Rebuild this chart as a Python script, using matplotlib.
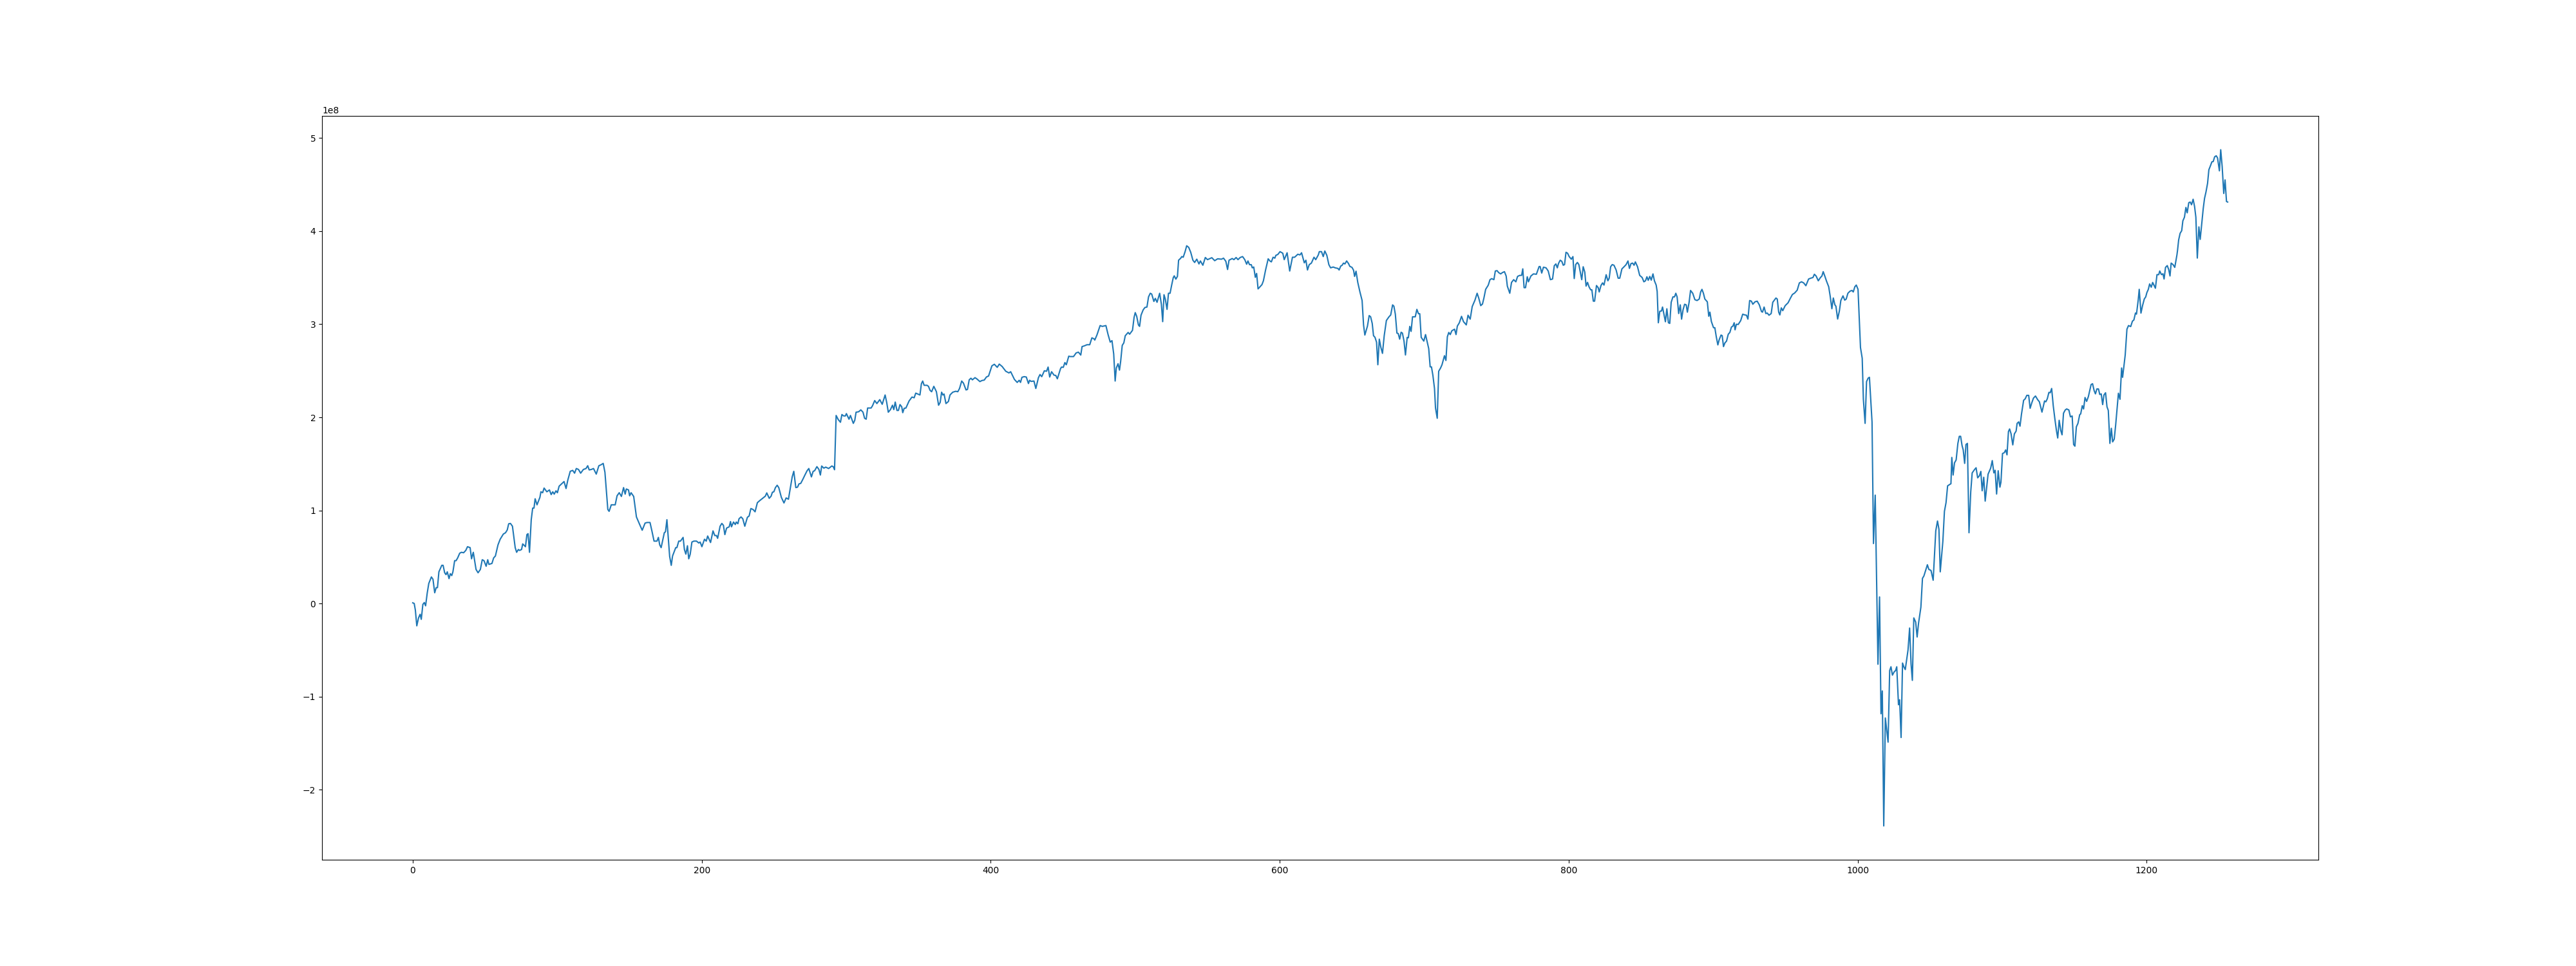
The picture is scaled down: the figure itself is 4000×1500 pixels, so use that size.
import numpy as np
import matplotlib
matplotlib.use("Agg")
import matplotlib.pyplot as plt

# (day index, value in units of 1e8), by stretch
seg_0_150 = [(0,0.007),(1,0.0),(1.8,-0.07),(2.8,-0.24),(4,-0.155),(5.1,-0.116),(5.9,-0.17),(7,-0.01),(8,0.01),(8.9,-0.025),
    (10,0.11),(11.1,0.215),(12.9,0.285),(14,0.26),(15.2,0.115),(16.2,0.17),(17.1,0.17),(18.1,0.34),(20.1,0.41),(21,0.41),
    (22.1,0.33),(23,0.31),(23.9,0.34),(25.1,0.267),(26,0.32),(27,0.30),(27.8,0.34),(29,0.46),(30,0.46),(31.1,0.49),
    (32.5,0.54),(33.7,0.55),(35.2,0.545),(36.7,0.57),(37.9,0.61),(39.7,0.60),(40.7,0.48),(41.9,0.55),(43.8,0.366),(45.2,0.33),
    (46.8,0.366),(48.1,0.47),(49.3,0.46),(50.8,0.40),(51.9,0.47),(52.7,0.42),(54.8,0.43),(56,0.49),(57.2,0.51),(59,0.63),
    (60.5,0.69),(62.7,0.746),(64.2,0.76),(65.4,0.79),(66.4,0.856),(67.6,0.86),(69,0.83),(70.9,0.60),(71.9,0.55),(73.1,0.58),
    (73.9,0.57),(75.3,0.58),(76.1,0.64),(78,0.61),(79,0.74),(79.8,0.75),(80.8,0.55),(82,0.90),(83,1.025),(83.9,1.025),
    (84.7,1.125),(86,1.06),(88,1.14),(88.7,1.20),(89.9,1.19),(90.9,1.24),(92.8,1.20),(94.6,1.22),(95.8,1.17),(96.9,1.20),
    (97.9,1.175),(99.1,1.21),(100.1,1.19),(101.3,1.26),(103.3,1.29),(104.7,1.31),(106.1,1.235),(107.3,1.325),(109,1.42),(110.7,1.43),
    (112,1.40),(113.2,1.45),(114.7,1.44),(116.2,1.40),(118.1,1.44),(119.9,1.45),(121.1,1.48),(122.1,1.435),(123.6,1.44),(125.1,1.45),
    (127,1.39),(128.8,1.48),(130.3,1.49),(131.8,1.505),(133,1.41),(135,1.01),(135.9,0.99),(137.4,1.06),(139.2,1.06),(140.1,1.06),
    (141.4,1.157),(142.9,1.19),(144.4,1.15),(145.9,1.245),(147,1.175),(147.8,1.23),(149.3,1.22),(150.1,1.157)]

seg_151_310 = [(151.1,1.19),(152.9,1.15),(154.8,0.93),(157,0.85),(158.8,0.787),(160.8,0.864),(162.2,0.87),(164.2,0.87),(165.5,0.78),(167,0.67),
    (169,0.67),(170,0.71),(170.9,0.63),(171.9,0.60),(174.1,0.76),(174.9,0.77),(175.9,0.90),(177.8,0.505),(178.9,0.41),(179.8,0.51),
    (182,0.60),(182.8,0.60),(184.1,0.67),(185.3,0.67),(187.1,0.71),(188,0.58),(189,0.53),(190.1,0.62),(191,0.48),(192,0.528),
    (193.2,0.66),(194.5,0.67),(196.4,0.67),(197.9,0.65),(198.9,0.66),(200.1,0.61),(201.9,0.69),(203.1,0.67),(204.1,0.725),(206.1,0.655),
    (207.8,0.78),(209,0.73),(210.2,0.73),(211,0.70),(212.7,0.83),(213.9,0.86),(215,0.84),(216,0.74),(217.2,0.81),(219,0.824),
    (219.9,0.88),(220.6,0.824),(222,0.875),(223.2,0.848),(223.9,0.875),(225,0.857),(225.8,0.91),(227.2,0.93),(228.4,0.91),(229.8,0.83),
    (231.6,0.926),(232.8,0.94),(234,1.02),(235.5,1.01),(236.9,0.985),(238.5,1.083),(240.2,1.106),(242.5,1.134),(244,1.153),(245,1.188),
    (246.7,1.13),(248,1.153),(248.9,1.195),(249.9,1.2),(251,1.245),(252.2,1.27),(253.3,1.245),(255.1,1.14),(256.9,1.08),(258.4,1.134),
    (260,1.12),(261.1,1.22),(262.6,1.36),(263.7,1.42),(265.1,1.245),(266.3,1.25),(267.3,1.285),(268.5,1.29),(270,1.335),(271.4,1.38),
    (272.9,1.426),(274.1,1.45),(275.9,1.36),(277.1,1.42),(278.1,1.426),(279.7,1.47),(281.1,1.44),(282.1,1.38),(283,1.477),(284.5,1.454),
    (285.8,1.465),(287.8,1.45),(290,1.477),(291,1.47),(291.9,1.437),(293,2.02),(294.5,1.975),(296,1.947),(297,2.03),(298.2,2.015),
    (299.4,2.015),(300.1,2.04),(301.9,1.98),(302.9,2.02),(304.9,1.935),(305.9,1.968),(306.8,2.055),(308.6,2.06),(310.1,2.08)]

seg_311_471 = [(311.6,2.055),(312.7,1.99),(313.8,1.98),(314.8,2.10),(317.2,2.10),(318.2,2.125),(319.7,2.18),(321.2,2.148),(323.2,2.19),(324.9,2.14),
    (326.9,2.24),(328,2.16),(329.1,2.055),(330.6,2.083),(332,2.13),(332.9,2.083),(333.9,2.164),(335.1,2.074),(336.1,2.074),(337.2,2.137),
    (338.4,2.113),(339.1,2.05),(340.1,2.097),(341.3,2.10),(343.5,2.176),(345.5,2.218),(347,2.21),(348.1,2.26),(349.5,2.25),(351,2.24),
    (352,2.36),(352.9,2.39),(353.9,2.344),(355.9,2.344),(356.9,2.333),(358,2.29),(359.1,2.275),(360.6,2.333),(362.4,2.275),(363.9,2.13),
    (365,2.16),(366,2.27),(366.9,2.24),(367.7,2.25),(369,2.148),(370.7,2.17),(371.8,2.24),(373.7,2.27),(375.8,2.28),(377.2,2.275),
    (378.4,2.31),(379.9,2.39),(381.1,2.368),(382.9,2.294),(383.9,2.3),(385.1,2.403),(386.3,2.42),(387.3,2.403),(389.1,2.426),(390.3,2.414),
    (392.5,2.384),(394,2.396),(395.5,2.40),(397,2.433),(398.5,2.444),(400.8,2.553),(402.5,2.57),(404.5,2.537),(405.9,2.572),(407.9,2.546),
    (410.4,2.495),(412.6,2.477),(413.8,2.49),(416.4,2.407),(418.3,2.375),(419.7,2.398),(420.6,2.375),(421.6,2.43),(423.1,2.437),(424.6,2.433),
    (426.1,2.363),(426.9,2.398),(427.9,2.386),(429.9,2.39),(431.2,2.31),(433,2.426),(434.1,2.46),(435.3,2.437),(437.1,2.50),(438.6,2.495),
    (439.7,2.54),(440.8,2.433),(442.1,2.49),(443.8,2.453),(445,2.45),(446.1,2.414),(448.3,2.523),(449,2.54),(450.2,2.537),(451.3,2.588),
    (452.3,2.565),(454,2.657),(455,2.653),(457.3,2.653),(459.1,2.692),(460.7,2.70),(462.3,2.669),(463.2,2.76),(464.8,2.768),(466.6,2.78),
    (468.5,2.78),(470,2.854),(471.5,2.843)]

seg_472_633 = [(472,2.83),(473.5,2.885),(475.7,2.986),(477.2,2.977),(479.7,2.986),(481.2,2.889),(482.7,2.808),(483.9,2.824),(485.1,2.68),(486.1,2.39),
    (486.9,2.53),(488.1,2.576),(489.1,2.507),(489.9,2.6),(491,2.773),(492.1,2.8),(493.1,2.877),(495.1,2.912),(496.1,2.893),(498.1,2.935),
    (499.2,3.074),(500,3.125),(501,3.086),(502.2,2.993),(503,2.977),(504,3.097),(505.5,3.155),(506.7,3.18),(508.1,3.185),(509.2,3.294),
    (510.4,3.333),(511.4,3.324),(512.9,3.245),(513.9,3.278),(515.1,3.236),(516.9,3.333),(518.1,3.213),(519,3.028),(519.9,3.317),(520.8,3.27),
    (522,3.16),(523,3.333),(524.1,3.333),(525.2,3.42),(526.3,3.50),(527,3.52),(528.1,3.485),(529.2,3.514),(530,3.688),(531.5,3.71),
    (532.2,3.727),(533.2,3.72),(534.5,3.78),(535.6,3.843),(537,3.826),(538.4,3.773),(539.9,3.688),(541.1,3.664),(542.6,3.699),(544.1,3.648),
    (545.1,3.68),(546.8,3.634),(548.5,3.717),(550,3.694),(553,3.715),(555,3.683),(557,3.703),(559.7,3.699),(561.1,3.71),(562.7,3.676),
    (563.9,3.588),(564.9,3.688),(567.1,3.706),(568.3,3.694),(569.8,3.717),(571.1,3.694),(572.6,3.717),(574.3,3.727),(575.8,3.694),(577.1,3.645),
    (578,3.68),(579.1,3.64),(580.3,3.64),(581,3.606),(582,3.615),(583.1,3.504),(584,3.546),(585,3.38),(586.2,3.40),(587.7,3.426),
    (588.7,3.467),(590.2,3.583),(592,3.703),(593.2,3.68),(594.2,3.67),(595.4,3.72),(596.6,3.71),(597.3,3.74),(598.7,3.75),(600.2,3.78),
    (602.1,3.763),(603.1,3.694),(605.1,3.768),(606.9,3.572),(608.8,3.72),(610.3,3.72),(612.5,3.752),(614,3.745),(615.1,3.768),(617,3.66),
    (618.1,3.688),(619.2,3.583),(620.4,3.64),(621.9,3.657),(623.7,3.72),(624.9,3.694),(626.7,3.745),(627.4,3.78),(628.9,3.78),(630.1,3.727),
    (631.2,3.787),(632.6,3.74)]

seg_634_792 = [(634,3.64),(635.2,3.606),(637,3.615),(638.4,3.606),(640.2,3.60),(641.1,3.583),(642.2,3.625),(643.2,3.634),(644.1,3.657),(645.1,3.648),
    (646.3,3.68),(647.6,3.652),(648.5,3.622),(650,3.611),(651.1,3.58),(651.8,3.514),(652.8,3.57),(654,3.45),(655.5,3.347),(657,3.255),
    (658,2.993),(658.9,2.884),(660.7,2.98),(661.9,3.093),(662.9,3.08),(664,3.009),(664.9,2.877),(665.9,2.86),(667,2.807),(667.9,2.565),
    (668.9,2.84),(670,2.75),(671.1,2.687),(672.3,2.877),(673.8,3.04),(675.6,3.08),(676.8,3.10),(678.1,3.208),(679,3.194),(680,3.108),
    (681.1,2.905),(682,2.90),(683,2.84),(684,2.914),(684.9,2.905),(686,2.819),(687,2.67),(688.2,2.859),(689,2.854),(690,2.977),
    (690.9,2.923),(691.9,3.08),(693.8,3.08),(694.9,3.16),(696,3.113),(696.9,3.113),(697.9,2.859),(699.7,2.819),(700.9,2.889),(701.9,2.819),
    (703.1,2.738),(704.1,2.542),(705,2.542),(706,2.45),(707.1,2.31),(707.8,2.10),(709,1.99),(710,2.495),(711.3,2.53),(712.3,2.565),
    (714,2.662),(715,2.611),(716,2.866),(717,2.912),(718,2.889),(719.1,2.93),(721,2.947),(722,2.889),(722.9,2.98),(724.3,3.016),
    (725.8,3.085),(727.2,3.027),(729.1,2.993),(730.3,3.097),(731.8,3.055),(733.2,3.19),(735.1,3.259),(736.6,3.333),(737.7,3.282),(739.1,3.2),
    (740.3,3.217),(741.3,3.282),(742.5,3.375),(744.3,3.42),(745.5,3.479),(746.7,3.49),(748.2,3.479),(749.2,3.572),(750.4,3.576),(751.5,3.555),
    (752.9,3.541),(754.1,3.555),(755.5,3.565),(756.7,3.518),(757.5,3.41),(759.2,3.333),(760.4,3.449),(761.9,3.479),(763.4,3.456),(764.6,3.514),
    (766.1,3.525),(767.4,3.525),(768.2,3.595),(769.1,3.393),(770.1,3.393),(771.3,3.51),(772.1,3.456),(773.8,3.518),(775.6,3.541),(777.6,3.537),
    (779.5,3.62),(780.2,3.62),(781.3,3.55),(782.5,3.613),(784.3,3.606),(785.8,3.572),(787.3,3.479),(788.8,3.486),(790,3.629),(791.1,3.648),
    (792.1,3.606)]

seg_793_952 = [(792.9,3.652),(794.1,3.688),(795.2,3.676),(796.2,3.634),(797.1,3.641),(798.1,3.773),(799.2,3.763),(800.3,3.727),(801.8,3.699),(802.9,3.727),
    (803.8,3.491),(804.8,3.641),(806,3.664),(807,3.641),(808.1,3.55),(809,3.479),(810,3.618),(811.1,3.56),(812,3.41),(813,3.45),
    (814.1,3.4),(815.2,3.37),(816,3.37),(817,3.248),(817.9,3.248),(819.2,3.416),(820.4,3.393),(821.1,3.347),(822.3,3.416),(823.4,3.444),
    (824.4,3.421),(825.9,3.532),(827.1,3.467),(828,3.495),(829,3.618),(830.1,3.641),(831.3,3.634),(832.8,3.583),(834.2,3.495),(835.3,3.495),
    (836.8,3.595),(838.3,3.618),(839.7,3.641),(841,3.68),(842,3.6),(843.1,3.652),(844.2,3.657),(845.2,3.634),(846.1,3.67),(847.6,3.618),
    (849.1,3.525),(850.8,3.502),(852,3.456),(853.1,3.467),(854.1,3.51),(855,3.472),(856.1,3.514),(857.1,3.474),(858.3,3.541),(859.3,3.467),
    (860.5,3.421),(861.2,3.352),(862,3.016),(863,3.139),(864.2,3.143),(864.9,3.185),(866,3.097),(866.9,3.027),(867.9,3.166),(869,3.016),
    (869.9,3.009),(870.9,3.236),(872.1,3.294),(873.2,3.294),(874.1,3.333),(875,3.294),(876.1,3.115),(877.2,3.208),(878.1,3.055),(879.1,3.155),
    (880.2,3.215),(881.3,3.208),(882.1,3.13),(883.3,3.236),(884.3,3.363),(885.8,3.333),(887.3,3.264),(888.8,3.255),(890.3,3.271),(891.3,3.347),
    (892.2,3.375),(893.2,3.333),(894.2,3.271),(895.9,3.241),(896.9,3.086),(897.7,3.13),(898.7,3.03),(900.2,2.963),(901.1,2.963),(902.1,2.866),
    (903.2,2.778),(904.1,2.833),(905.4,2.884),(906.2,2.877),(907.1,2.76),(908.1,2.8),(909.2,2.819),(910.4,2.893),(911.5,2.912),(912.6,2.97),
    (913.6,2.98),(914.5,3.016),(915.1,2.94),(916,3.0),(917.3,2.998),(919,3.039),(920.4,3.108),(921.9,3.1),(923,3.097),(924,3.055),
    (925.2,3.255),(926.4,3.248),(927.4,3.215),(928.9,3.241),(930.4,3.248),(931.9,3.208),(933.4,3.136),(934.1,3.13),(935.2,3.185),(936.4,3.115),
    (937.4,3.12),(938.6,3.097),(940.1,3.115),(941.2,3.236),(942.3,3.259),(943.4,3.282),(944.3,3.271),(945.3,3.13),(946.1,3.1),(947.1,3.176),
    (948.1,3.146),(949.8,3.2),(951.8,3.231)]

seg_953_1012 = [(953.4,3.28),(954.8,3.32),(956.3,3.335),(958.1,3.366),(959.6,3.444),(961.1,3.456),(962.6,3.444),(964.1,3.414),(966,3.486),(967.5,3.495),
    (969,3.502),(970,3.537),(971.2,3.518),(972.7,3.467),(974.2,3.502),(975.2,3.518),(976.1,3.565),(977.2,3.518),(978.4,3.463),(979.9,3.403),
    (980.9,3.305),(982.1,3.167),(983.1,3.282),(984.2,3.208),(984.9,3.194),(986.1,3.056),(987.3,3.143),(988.3,3.255),(989.8,3.305),(991,3.259),
    (992,3.27),(993.2,3.333),(994.7,3.356),(996,3.363),(996.9,3.347),(998,3.403),(999,3.421),(1000.2,3.375),(1001.9,2.75),(1003.1,2.634),
    (1003.9,2.194),(1005.1,1.935),(1006.1,2.384),(1007.2,2.421),(1008.1,2.43),(1009.9,1.95),(1010.9,0.644),(1012.1,1.164)]

seg_1014_1046 = [(1014,-0.653),(1015.1,0.07),(1016.1,-1.185),(1017,-0.94),(1018,-2.39),(1019.1,-1.23),(1021,-1.49),(1022.1,-0.72),(1023,-0.68),(1024,-0.77),
    (1025.2,-0.735),(1026.2,-0.72),(1027,-0.68),(1028.2,-1.088),(1029,-1.035),(1030,-1.44),(1031,-0.64),(1031.9,-0.68),(1032.9,-0.71),(1033.7,-0.62),
    (1034.8,-0.50),(1035.9,-0.264),(1036.9,-0.65),(1037.8,-0.826),(1038.8,-0.155),(1040.1,-0.2),(1041.1,-0.36),(1042.1,-0.21),(1043.7,-0.04),(1044.8,0.27),
    (1045.8,0.296)]

seg_1048_1184 = [(1048.2,0.416),(1049.2,0.366),(1050.7,0.355),(1052.2,0.25),(1054,0.78),(1055.2,0.886),(1056.2,0.797),(1057.1,0.34),(1058.9,0.666),(1060,0.99),
    (1061.1,1.083),(1062.2,1.264),(1063.8,1.28),(1064.5,1.287),(1065.1,1.569),(1066,1.38),(1067,1.512),(1068.1,1.542),(1069.3,1.72),(1070.3,1.796),
    (1071.2,1.796),(1072.2,1.696),(1073,1.65),(1074,1.505),(1074.9,1.708),(1075.9,1.72),(1077,0.76),(1078.2,1.199),(1079.2,1.403),(1080.9,1.44),
    (1081.9,1.458),(1083,1.35),(1084.2,1.372),(1085.2,1.419),(1086.1,1.211),(1087.2,1.356),(1088.2,1.1),(1090.2,1.389),(1092,1.454),(1093.1,1.535),
    (1094.2,1.403),(1095.1,1.431),(1096.1,1.176),(1097.2,1.426),(1098.4,1.25),(1099.1,1.303),(1100.2,1.611),(1101.4,1.62),(1102.4,1.65),(1103.3,1.597),
    (1104.3,1.847),(1105.1,1.875),(1106.1,1.824),(1107.3,1.704),(1108.4,1.822),(1109.6,1.852),(1110.3,1.935),(1111.4,1.951),(1112.3,1.905),(1113.3,2.032),
    (1114.8,2.183),(1115.9,2.199),(1117,2.236),(1118.3,2.236),(1119.3,2.097),(1120.4,2.153),(1121.6,2.206),(1123,2.229),(1124.5,2.19),(1125.7,2.167),
    (1127.5,2.056),(1129.3,2.176),(1130.2,2.167),(1131.2,2.2),(1132.3,2.268),(1133.2,2.264),(1134.2,2.31),(1135.3,2.125),(1136.4,1.986),(1137.5,1.859),
    (1138.4,1.778),(1139.4,1.968),(1140.5,1.859),(1141.4,1.812),(1142.4,2.044),(1143.6,2.079),(1144.6,2.09),(1146.1,2.079),(1147.2,2.005),(1148.4,2.014),
    (1149.4,1.708),(1150.3,1.69),(1151.3,1.898),(1152.4,1.935),(1153.6,2.028),(1154.3,2.037),(1155.4,2.125),(1156.3,2.09),(1157.3,2.213),(1158.4,2.171),
    (1159.6,2.222),(1160.6,2.292),(1161.5,2.352),(1162.5,2.361),(1163.6,2.287),(1164.5,2.252),(1165.5,2.305),(1166.6,2.305),(1167.5,2.245),(1168.5,2.252),
    (1169.5,2.137),(1170.4,2.24),(1171.5,2.264),(1172.5,2.113),(1173.4,2.074),(1174.5,1.72),(1175.5,1.882),(1176.4,1.736),(1177.5,1.766),(1178.5,1.917),
    (1179.4,2.079),(1180.4,2.259),(1181.5,2.194),(1182.6,2.53),(1183.3,2.43)]

seg_1185_1256 = [(1185.1,2.669),(1186.3,2.947),(1187.4,2.986),(1188.9,2.975),(1190.1,3.033),(1191.1,3.046),(1192.2,3.12),(1192.9,3.109),(1194.1,3.259),(1194.8,3.375),
    (1196,3.12),(1197.1,3.2),(1198.3,3.271),(1199.3,3.294),(1200.1,3.34),(1201.1,3.375),(1202,3.433),(1203.1,3.398),(1204.1,3.449),(1206,3.387),
    (1207.1,3.533),(1208.3,3.533),(1209,3.572),(1210.2,3.533),(1211.2,3.542),(1212,3.486),(1213,3.611),(1214.2,3.63),(1215.2,3.588),(1216.1,3.519),
    (1216.9,3.657),(1218.2,3.641),(1219.4,3.611),(1220.9,3.745),(1221.3,3.792),(1222.1,3.907),(1223.1,3.977),(1224.2,4.005),(1225,4.111),(1226.1,4.15),
    (1227.1,4.255),(1228,4.197),(1229.1,4.306),(1230.1,4.313),(1231,4.284),(1232.1,4.343),(1233.1,4.266),(1234,4.15),(1235,3.711),(1236.1,4.046),
    (1237,3.912),(1238,4.069),(1239.1,4.243),(1240,4.352),(1241,4.421),(1242.1,4.514),(1243,4.66),(1244,4.699),(1245.1,4.745),(1246,4.748),
    (1247,4.799),(1248.1,4.81),(1249,4.787),(1250.3,4.648),(1251.2,4.875),(1252.2,4.694),(1253.3,4.405),(1254.2,4.551),(1255.2,4.319),(1256,4.313)]

segments = [seg_0_150, seg_151_310, seg_311_471, seg_472_633, seg_634_792,
            seg_793_952, seg_953_1012, seg_1014_1046, seg_1048_1184, seg_1185_1256]

day = np.array([p[0] for s in segments for p in s])
value = np.array([p[1] for s in segments for p in s]) * 1e8

fig = plt.figure(figsize=(40, 15), dpi=100)
ax = fig.add_subplot(111)
ax.plot(day, value)
fig.savefig("out.png", dpi=100)
